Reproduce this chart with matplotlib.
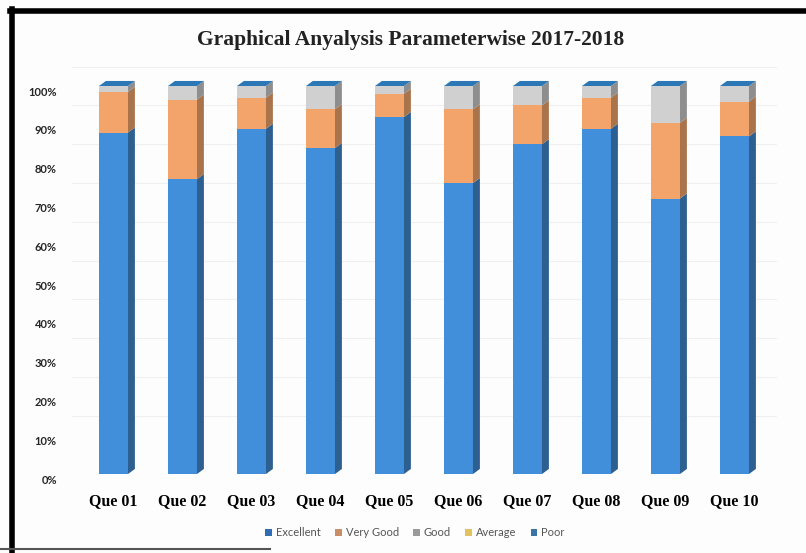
import matplotlib
matplotlib.use("Agg")
from matplotlib import pyplot as plt
from matplotlib.patches import Polygon, Patch
from matplotlib.lines import Line2D
from matplotlib.transforms import ScaledTranslation
import numpy as np

questions = ["Que 01", "Que 02", "Que 03", "Que 04", "Que 05",
             "Que 06", "Que 07", "Que 08", "Que 09", "Que 10"]
excellent = [88, 76, 89, 84, 92, 75, 85, 89, 71, 87]
very_good = [10.5, 20.5, 8, 10, 6, 19, 10, 8, 19.5, 9]
good = [1.5, 3.5, 3, 6, 2, 6, 5, 3, 9.5, 4]
average = [0, 0, 0, 0, 0, 0, 0, 0, 0, 0]
poor = [0, 0, 0, 0, 0, 0, 0, 0, 0, 0]
series_names = ["Excellent", "Very Good", "Good", "Average", "Poor"]
y_ticks = [0, 10, 20, 30, 40, 50, 60, 70, 80, 90, 100]

front_colors = ["#418EDA", "#F2A46B", "#D0D0D0", "#E9C14C", "#2E72B0"]
side_colors = ["#2D5F90", "#A9744C", "#8E8E8E", "#A88A30", "#1F4F7E"]
legend_colors = ["#2F6DB5", "#C98E68", "#9A9A9A", "#E2C35E", "#3A73A6"]

W, H, DPI = 806, 553, 100
fig = plt.figure(figsize=(W / DPI, H / DPI), dpi=DPI, facecolor="#fdfdfd")

# axes box in pixels: x centre of bar 0 at 113.5, 69 px per bar; y 0..100 -> 474..86
x_lo, x_hi = -0.6, 9.6
px_per_unit = 69
left_px = 113.5 + x_lo * px_per_unit
right_px = 113.5 + x_hi * px_per_unit
ax = fig.add_axes([left_px / W, (H - 474) / H, (right_px - left_px) / W, (474 - 86) / H])
ax.set_xlim(x_lo, x_hi)
ax.set_ylim(0, 100)
ax.set_facecolor("none")
for s in ax.spines.values():
    s.set_visible(False)

bar_w = 0.42
dx = 0.10   # depth offset in x units
dy = 1.3    # depth offset in percent units

# faint gridlines on the back wall
for t in y_ticks[1:]:
    ax.plot([x_lo, x_hi], [t + 5, t + 5], color="#f0f0f0", lw=0.8, zorder=0, clip_on=False)

x = np.arange(len(questions))
stack = [excellent, very_good, good, average, poor]
bottom = np.zeros(len(questions))
for k, vals in enumerate(stack):
    vals = np.array(vals, dtype=float)
    ax.bar(x, vals, bar_w, bottom=bottom, color=front_colors[k], edgecolor="none",
           zorder=2, clip_on=False)
    for i in range(len(x)):
        if vals[i] <= 0:
            continue
        xr = x[i] + bar_w / 2
        y0, y1 = bottom[i], bottom[i] + vals[i]
        ax.add_patch(Polygon([(xr, y0), (xr + dx, y0 + dy), (xr + dx, y1 + dy), (xr, y1)],
                             closed=True, facecolor=side_colors[k], edgecolor="none",
                             zorder=2, clip_on=False))
    bottom = bottom + vals

# top caps of the stacks (face of the last series)
for i in range(len(x)):
    xl = x[i] - bar_w / 2
    xr = x[i] + bar_w / 2
    yt = bottom[i]
    ax.add_patch(Polygon([(xl, yt), (xl + dx, yt + dy), (xr + dx, yt + dy), (xr, yt)],
                         closed=True, facecolor="#2C78B6", edgecolor="none",
                         zorder=3, clip_on=False))

ax.set_xticks(x)
ax.set_xticklabels(questions, fontfamily="Liberation Serif", fontweight="bold", fontsize=11.5)
ax.set_yticks(y_ticks)
ax.set_yticklabels([f"{t}%" for t in y_ticks], fontfamily="Lato", fontweight="bold",
                   fontsize=8, color="#262626")
ax.tick_params(axis="both", length=0)
ax.tick_params(axis="x", pad=14)
ax.tick_params(axis="y", pad=11)
shift = ScaledTranslation(0, -5 / DPI, fig.dpi_scale_trans)
for lab in ax.get_yticklabels():
    lab.set_transform(lab.get_transform() + shift)

fig.text(0.51, 1 - 40 / H, "Graphical Anyalysis Parameterwise 2017-2018",
         ha="center", va="center", fontfamily="Liberation Serif", fontweight="bold",
         fontsize=15.5, color="#222222")

handles = [Patch(facecolor=c, edgecolor="none") for c in legend_colors]
fig.legend(handles, series_names, loc="center", bbox_to_anchor=(0.515, 1 - 533 / H),
           ncol=5, frameon=False, prop={"family": "Lato", "size": 8},
           handlelength=0.6, handleheight=0.6, handletextpad=0.35, columnspacing=1.3,
           labelcolor="#555555")

# scanned frame: heavy black top and left edges, thin bottom edge
fig.add_artist(Line2D([10 / W, 1], [1 - 11 / H, 1 - 11 / H], color="black", lw=4,
                      transform=fig.transFigure))
fig.add_artist(Line2D([12 / W, 12 / W], [0, 1 - 9 / H], color="black", lw=4,
                      transform=fig.transFigure))
fig.add_artist(Line2D([0, 270 / W], [1 - 549 / H, 1 - 549 / H], color="#555555", lw=1.5,
                      transform=fig.transFigure))

fig.savefig("out.png", dpi=DPI, facecolor=fig.get_facecolor())
